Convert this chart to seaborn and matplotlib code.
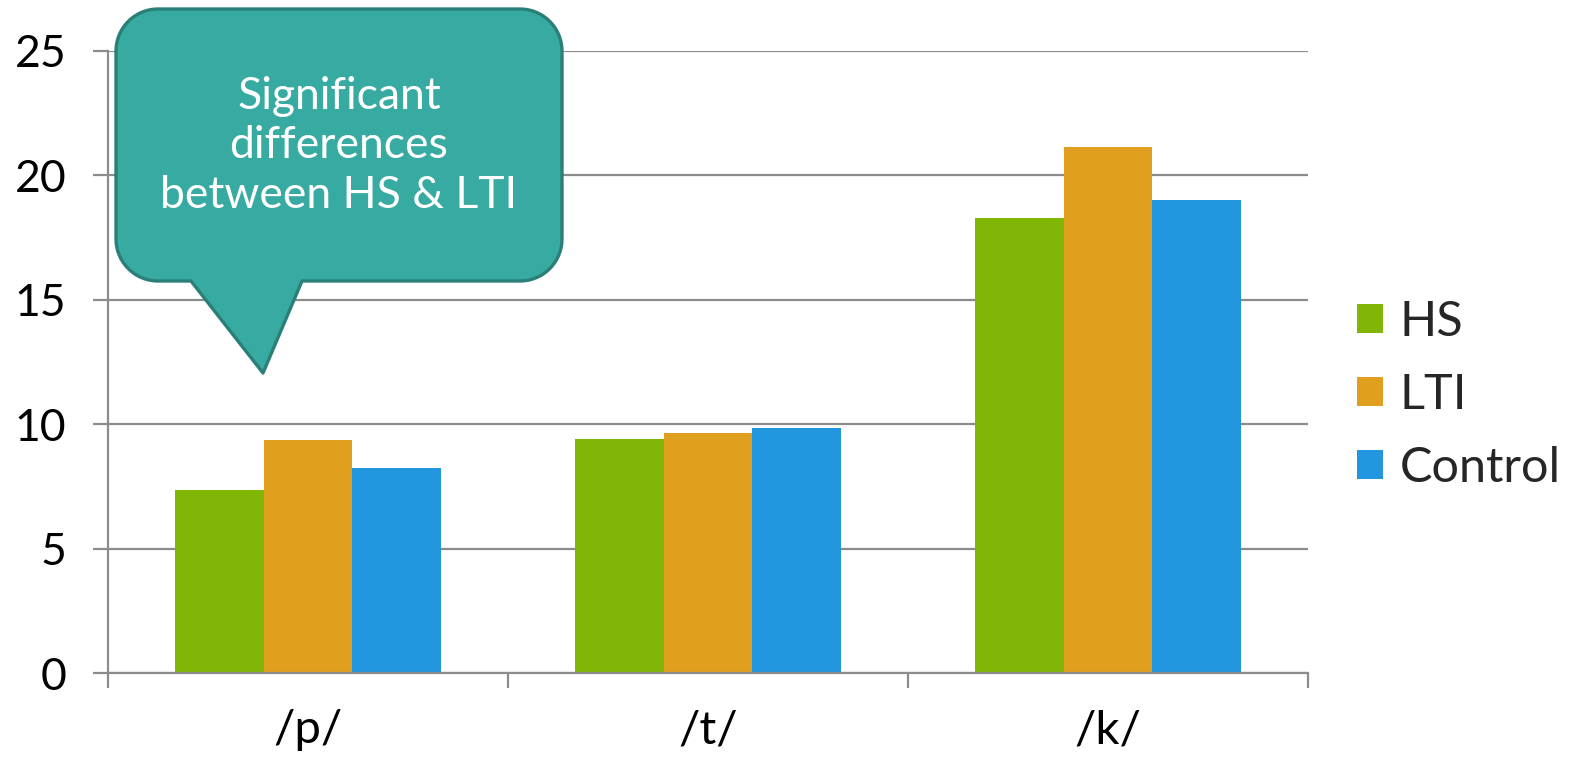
import numpy as np
import pandas as pd
import matplotlib
matplotlib.use("Agg")
import matplotlib.pyplot as plt
from matplotlib.path import Path
from matplotlib.patches import PathPatch, Patch
import seaborn as sns

# Data
consonants = ["/p/", "/t/", "/k/"]
groups = ["HS", "LTI", "Control"]
hs_values = [7.35, 9.40, 18.28]
lti_values = [9.35, 9.64, 21.11]
control_values = [8.24, 9.84, 18.99]
y_ticks = [0, 5, 10, 15, 20, 25]
callout_lines = ["Significant", "differences", "between HS & LTI"]

colors = ["#82B606", "#E19F20", "#2396E0"]
grid_grey = "#8C8C8C"
teal_fill = "#37ABA1"
teal_edge = "#2A8078"

df = pd.DataFrame({
    "consonant": consonants * len(groups),
    "group": [g for g in groups for _ in consonants],
    "value": hs_values + lti_values + control_values,
})

sns.set_style("white")
plt.rcParams["font.family"] = ["Lato", "DejaVu Sans"]

W, H = 1583, 761
fig = plt.figure(figsize=(W / 100, H / 100), dpi=100)
ax = fig.add_axes([108 / W, 1 - 673 / H, 1200 / W, (673 - 50.5) / H])

sns.barplot(data=df, x="consonant", y="value", hue="group",
            order=consonants, hue_order=groups, palette=colors,
            width=2 / 3, gap=0, linewidth=0, saturation=1,
            legend=False, ax=ax)

ax.set_xlim(-0.5, 2.5)
ax.set_ylim(0, 25)
ax.set_xlabel("")
ax.set_ylabel("")
ax.set_yticks(y_ticks)
ax.set_yticklabels([str(t) for t in y_ticks])
ax.yaxis.grid(True, color=grid_grey, lw=1.6)
ax.xaxis.grid(False)
ax.set_axisbelow(True)
for side in ("top", "right"):
    ax.spines[side].set_visible(False)
for side in ("left", "bottom"):
    ax.spines[side].set_color(grid_grey)
    ax.spines[side].set_linewidth(1.6)

ax.tick_params(axis="y", left=True, direction="out", length=11, width=1.6,
               color=grid_grey, labelsize=32, pad=19, labelcolor="black")
ax.set_xticks([0, 1, 2])
ax.set_xticklabels(consonants)
ax.tick_params(axis="x", which="major", bottom=True, length=0,
               labelsize=34, pad=26, labelcolor="black")
ax.set_xticks([-0.5, 0.5, 1.5, 2.5], minor=True)
ax.tick_params(axis="x", which="minor", bottom=True, direction="out",
               length=11, width=1.6, color=grid_grey)

# Legend on the right
handles = [Patch(facecolor=c, edgecolor="none", label=g) for c, g in zip(colors, groups)]
fig.legend(handles=handles, loc="center left", bbox_to_anchor=(1357 / W, 1 - 395 / H),
           frameon=False, fontsize=35, handlelength=0.54, handleheight=0.54,
           handletextpad=0.34, labelspacing=0.6, borderaxespad=0, borderpad=0)

# Speech-bubble callout (pixel coordinates, y measured from top)
L, R, T, B, r = 116, 562, 9, 281, 42
tail_right, tail_left, tip = (302, B), (191, B), (263, 373)


def arc(cx, cy, a0, a1, n=20):
    t = np.radians(np.linspace(a0, a1, n))
    return list(zip(cx + r * np.cos(t), cy - r * np.sin(t)))


pts = []
pts += [(L + r, T), (R - r, T)]
pts += arc(R - r, T + r, 90, 0)
pts += [(R, B - r)]
pts += arc(R - r, B - r, 0, -90)
pts += [tail_right, tip, tail_left, (L + r, B)]
pts += arc(L + r, B - r, -90, -180)
pts += [(L, T + r)]
pts += arc(L + r, T + r, 180, 90)
verts = [(x / 100, (H - y) / 100) for x, y in pts]
verts.append(verts[0])
codes = [Path.MOVETO] + [Path.LINETO] * (len(verts) - 2) + [Path.CLOSEPOLY]
bubble = PathPatch(Path(verts, codes), facecolor=teal_fill, edgecolor=teal_edge,
                   linewidth=2.4, transform=fig.dpi_scale_trans, zorder=10,
                   joinstyle="round")
fig.add_artist(bubble)

fig.text(339 / 100, (H - 146) / 100, "\n".join(callout_lines),
         transform=fig.dpi_scale_trans, ha="center", va="center",
         color="white", fontsize=32, linespacing=1.25, zorder=11)

fig.savefig("out.png", dpi=100)
